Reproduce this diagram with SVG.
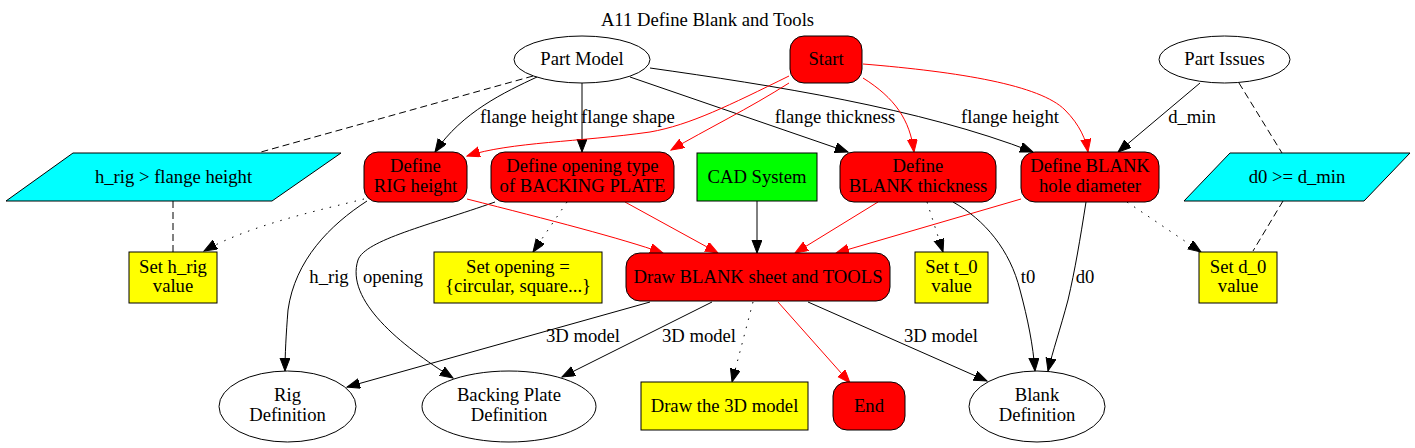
<svg xmlns="http://www.w3.org/2000/svg" width="1415" height="448" viewBox="0 0 1415 448">
<style>
text{font-family:"Liberation Serif","Times New Roman",serif;font-size:18.67px;text-anchor:middle;fill:#000}
.n{stroke:#000;stroke-width:1}
.w{fill:#fff}
.r{fill:#ff0000}
.y{fill:#ffff00}
.c{fill:#00ffff}
.g{fill:#00ff00}
.e{fill:none;stroke:#000;stroke-width:1}
.er{fill:none;stroke:#ff0000;stroke-width:1}
.dash{stroke-dasharray:7,4}
.dot{stroke-dasharray:1.5,7}
.a{marker-end:url(#ab)}
.ar{marker-end:url(#ar)}
</style>
<defs>
<marker id="ab" markerUnits="userSpaceOnUse" markerWidth="14" markerHeight="11" refX="13" refY="5" orient="auto"><path d="M0,0 L13,5 L0,10 z" fill="#000" stroke="#000" stroke-width="1"/></marker>
<marker id="ar" markerUnits="userSpaceOnUse" markerWidth="14" markerHeight="11" refX="13" refY="5" orient="auto"><path d="M0,0 L13,5 L0,10 z" fill="#ff0000" stroke="#ff0000" stroke-width="1"/></marker>
</defs>
<rect width="1415" height="448" fill="#fff"/>
<text x="707.5" y="26">A11 Define Blank and Tools</text>

<g id="edges">
<path class="e a" d="M537,77 C505,92 462,112 435,152"/>
<path class="e a" d="M582,83 L582,152"/>
<path class="e a" d="M630,77 L848,152"/>
<path class="e a" d="M650,68 C770,85 920,108 1033,152"/>
<path class="e dash" d="M533,76 L261,152"/>
<path class="er ar" d="M789,76 C730,105 690,125 650,132 C580,142 510,142 467,156"/>
<path class="er ar" d="M789,83 C750,108 705,130 671,150"/>
<path class="er ar" d="M863,78 C895,98 910,120 914,152"/>
<path class="er ar" d="M863,64 C960,72 1040,85 1065,110 C1080,125 1086,140 1088,152"/>
<path class="e a" d="M1200,83 L1118,152"/>
<path class="e dash" d="M1239,83 L1282,153"/>
<path class="e dot a" d="M364,199 C320,210 250,225 204,251"/>
<path class="e dash" d="M173,201 L173,252"/>
<path class="e a" d="M367,201 C330,225 295,260 288,310 C286,335 285,355 285,371"/>
<path class="e a" d="M495,202 C430,225 365,240 358,260 C345,300 400,345 453,378"/>
<path class="e dot a" d="M567,202 L533,252"/>
<path class="er ar" d="M467,199 C550,220 620,238 663,253"/>
<path class="er ar" d="M625,202 L718,253"/>
<path class="e a" d="M757,201 L757,253"/>
<path class="er ar" d="M878,202 L795,253"/>
<path class="er ar" d="M1021,199 L836,253"/>
<path class="e dot a" d="M927,202 L943,252"/>
<path class="e a" d="M953,202 C985,220 1010,250 1020,290 C1028,320 1033,345 1035,371"/>
<path class="e a" d="M1086,202 C1080,240 1075,270 1068,300 C1060,330 1053,350 1048,371"/>
<path class="e dot a" d="M1127,202 L1201,252"/>
<path class="e dash" d="M1283,201 L1253,251"/>
<path class="e a" d="M650,302 L347,387"/>
<path class="e a" d="M712,302 L562,377"/>
<path class="e dot a" d="M753,302 L732,382"/>
<path class="er ar" d="M778,302 L850,383"/>
<path class="e a" d="M808,302 L987,381"/>
<text x="529" y="123">flange height</text>
<text x="628" y="123">flange shape</text>
<text x="835" y="123">flange thickness</text>
<text x="1010" y="123">flange height</text>
<text x="1192" y="123">d_min</text>
<text x="329" y="283">h_rig</text>
<text x="393" y="283">opening</text>
<text x="1028" y="283">t0</text>
<text x="1085" y="283">d0</text>
<text x="583" y="342">3D model</text>
<text x="699" y="342">3D model</text>
<text x="941" y="342">3D model</text>
</g>

<g id="part_model"><ellipse class="n w" cx="582" cy="59.5" rx="68" ry="23.5"/><text x="582" y="65">Part Model</text></g>
<g id="start"><rect class="n r" x="790" y="36" width="72" height="47" rx="14"/><text x="826" y="65">Start</text></g>
<g id="part_issues"><ellipse class="n w" cx="1224.5" cy="59.5" rx="65.5" ry="23.5"/><text x="1224.5" y="65">Part Issues</text></g>
<g id="cond_hrig"><polygon class="n c" points="73,153 341,153 272,201 6,201"/><text x="173.5" y="183">h_rig &gt; flange height</text></g>
<g id="def_rig"><rect class="n r" x="364" y="152" width="103" height="50" rx="14"/><text x="415.5" y="172">Define</text><text x="415.5" y="192">RIG height</text></g>
<g id="def_opening"><rect class="n r" x="491" y="152" width="183" height="50" rx="14"/><text x="582.5" y="172">Define opening type</text><text x="582.5" y="192">of BACKING PLATE</text></g>
<g id="cad"><rect class="n g" x="697" y="153" width="120" height="48"/><text x="757" y="183">CAD System</text></g>
<g id="def_thick"><rect class="n r" x="840" y="152" width="156" height="50" rx="14"/><text x="918" y="172">Define</text><text x="918" y="192">BLANK thickness</text></g>
<g id="def_hole"><rect class="n r" x="1021" y="152" width="138" height="50" rx="14"/><text x="1090" y="172">Define BLANK</text><text x="1090" y="192">hole diameter</text></g>
<g id="cond_d0"><polygon class="n c" points="1230,153 1410,153 1364,201 1184,201"/><text x="1297" y="183">d0 &gt;= d_min</text></g>
<g id="set_hrig"><rect class="n y" x="129" y="252" width="88" height="51"/><text x="173" y="273">Set h_rig</text><text x="173" y="292">value</text></g>
<g id="set_opening"><rect class="n y" x="434" y="252" width="168" height="51"/><text x="518" y="273">Set opening =</text><text x="518" y="292">{circular, square...}</text></g>
<g id="draw_blank"><rect class="n r" x="626" y="253" width="264" height="48" rx="14"/><text x="758" y="283">Draw BLANK sheet and TOOLS</text></g>
<g id="set_t0"><rect class="n y" x="915" y="252" width="73" height="51"/><text x="951.5" y="273">Set t_0</text><text x="951.5" y="292">value</text></g>
<g id="set_d0"><rect class="n y" x="1199" y="252" width="78" height="51"/><text x="1238" y="273">Set d_0</text><text x="1238" y="292">value</text></g>
<g id="rig_def"><ellipse class="n w" cx="287.5" cy="406.5" rx="68.5" ry="35.5"/><text x="287.5" y="401">Rig</text><text x="287.5" y="421">Definition</text></g>
<g id="bp_def"><ellipse class="n w" cx="509" cy="406.5" rx="87" ry="35.5"/><text x="509" y="401">Backing Plate</text><text x="509" y="421">Definition</text></g>
<g id="draw3d"><rect class="n y" x="641" y="382" width="167" height="48"/><text x="724.5" y="412">Draw the 3D model</text></g>
<g id="end"><rect class="n r" x="833" y="382" width="72" height="48" rx="14"/><text x="869" y="412">End</text></g>
<g id="blank_def"><ellipse class="n w" cx="1037" cy="406.5" rx="68" ry="35.5"/><text x="1037" y="401">Blank</text><text x="1037" y="421">Definition</text></g>
</svg>
